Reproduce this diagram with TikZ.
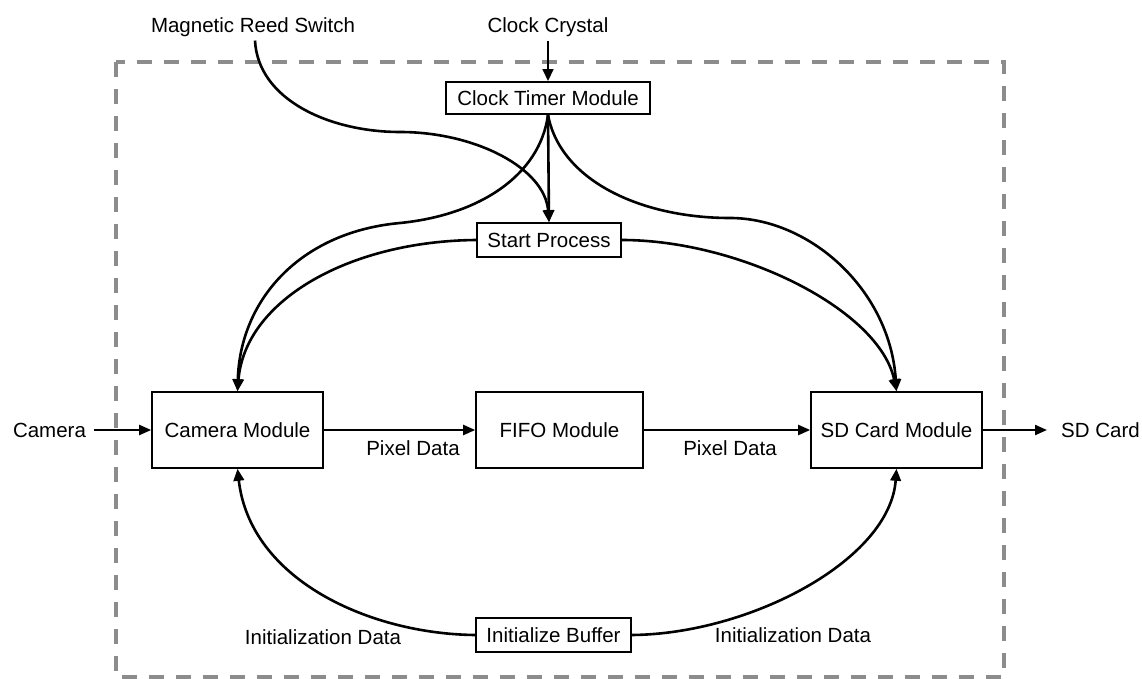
\documentclass[tikz,border=0pt]{standalone}
\usepackage{fontspec}
\setmainfont{Liberation Sans}
\usetikzlibrary{arrows.meta,calc}
\begin{document}
\begin{tikzpicture}[x=1pt,y=-1pt,
  every node/.style={font=\fontsize{20.5}{24}\selectfont, text height=14.7pt, text depth=0pt, inner sep=0pt},
  box/.style={draw, line width=1.6pt},
  lbl/.style={},
  conn/.style={line width=2.6pt, -{Triangle[length=12pt,width=10.5pt]}},
  flow/.style={line width=2.1pt, -{Triangle[length=12pt,width=10pt]}},
  frame/.style={draw=black!45, line width=3.5pt, dash pattern=on 15pt off 12pt}
]
\useasboundingbox (0,0) rectangle (1142,679);
\draw[frame] (116,62) rectangle (1004,677);

% labels
\node[lbl] (mrs) at (253,25) {Magnetic Reed Switch};
\node[lbl] (cc) at (548,25) {Clock Crystal};
\node[lbl] (camlbl) at (49.5,430) {Camera};
\node[lbl] (sdcard) at (1100.5,430) {SD Card};
\node[lbl] (pd1) at (413,448) {Pixel Data};
\node[lbl] (pd2) at (730,448) {Pixel Data};
\node[lbl] (id1) at (323,637) {Initialization Data};
\node[lbl] (id2) at (793,635) {Initialization Data};

% boxes
\node[box, minimum width=204pt, minimum height=32pt] (ctm) at (548,98) {Clock Timer Module};
\node[box, minimum width=144pt, minimum height=34pt] (sp) at (549,240) {Start Process};
\node[box, minimum width=171pt, minimum height=76pt] (cam) at (237.5,430) {Camera Module};
\node[box, minimum width=167pt, minimum height=76pt] (fifo) at (559.5,430) {FIFO Module};
\node[box, minimum width=171pt, minimum height=76pt] (sd) at (896.5,430) {SD Card Module};
\node[box, minimum width=155pt, minimum height=34pt] (ib) at (553.5,635) {Initialize Buffer};

% straight connectors
\draw[conn] ($(cc.south)+(0,8)$) -- (ctm.north);
\draw[conn] (ctm.south) -- (sp.north);
\draw[flow] ($(camlbl.east)+(8,0)$) -- (cam.west);
\draw[flow] (cam.east) -- (fifo.west);
\draw[flow] (fifo.east) -- (sd.west);
\draw[flow] (sd.east) -- ($(sdcard.west)+(-14,0)$);

% curved connectors
\draw[conn] ($(mrs.south)+(2,8)$) .. controls (258,100) and (330,132) .. (400,132)
  .. controls (475,132) and (545,168) .. (sp.north);
\draw[conn] (ctm.south) .. controls (540,175) and (480,215) .. (400,223)
  .. controls (300,232) and (240,300) .. (cam.north);
\draw[conn] (sp.west) .. controls (350,241) and (245,300) .. (cam.north);
\draw[conn] (ctm.south) .. controls (560,180) and (640,218) .. (730,218)
  .. controls (810,218) and (890,290) .. (sd.north);
\draw[conn] (sp.east) .. controls (740,240) and (880,310) .. (sd.north);
\draw[conn] (ib.west) .. controls (370,634) and (250,580) .. (cam.south);
\draw[conn] (ib.east) .. controls (750,634) and (890,560) .. (sd.south);
\end{tikzpicture}
\end{document}
